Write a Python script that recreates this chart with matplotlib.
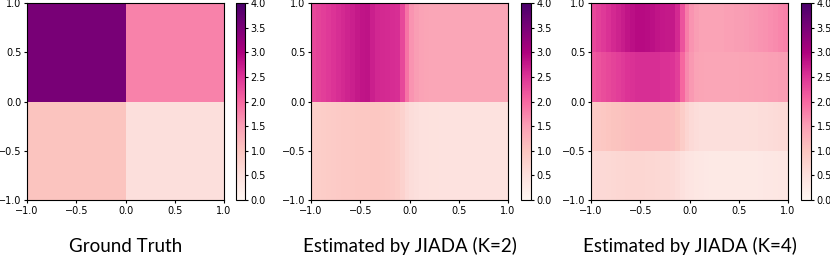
import matplotlib
matplotlib.use("Agg")
import matplotlib.pyplot as plt
import numpy as np

# ground truth, rows bottom -> top, cols left -> right
truth = [[1.0, 0.5],
         [3.5, 1.75]]

# K=2 estimate, 40 columns over x in [-1, 1]
k2_bottom = [0.82, 0.83, 0.85, 0.86, 0.88, 0.9, 0.91, 0.92, 0.93, 0.94, 0.95, 0.95,
             0.96, 0.96, 0.95, 0.93, 0.9, 0.85,
             0.75, 0.62,
             0.55, 0.5, 0.48, 0.47, 0.46, 0.46, 0.45, 0.45, 0.45, 0.45,
             0.45, 0.45, 0.45, 0.45, 0.45, 0.45, 0.45, 0.45, 0.45, 0.45]
k2_top = [2.3, 2.35, 2.4, 2.45, 2.5, 2.55, 2.6, 2.65, 2.7, 2.75, 2.8, 2.82,
          2.7, 2.62, 2.6, 2.58, 2.57, 2.55,
          2.3, 1.9,
          1.6, 1.5, 1.45, 1.42, 1.4, 1.4, 1.4, 1.4, 1.4, 1.4,
          1.4, 1.4, 1.4, 1.4, 1.4, 1.4, 1.4, 1.4, 1.4, 1.4]

# K=4 estimate, four bands bottom -> top
k4_band1 = [0.6, 0.61, 0.62, 0.63, 0.65, 0.66, 0.67, 0.68, 0.68, 0.68, 0.68, 0.67,
            0.66, 0.65, 0.64, 0.63, 0.6, 0.55,
            0.48, 0.42,
            0.38, 0.35, 0.33, 0.32, 0.3, 0.3, 0.3, 0.3, 0.3, 0.3,
            0.3, 0.3, 0.3, 0.31, 0.32, 0.33, 0.34, 0.35, 0.36, 0.37]
k4_band2 = [0.9, 0.92, 0.95, 0.97, 1.0, 1.02, 1.05, 1.07, 1.1, 1.12, 1.12, 1.12,
            1.12, 1.12, 1.1, 1.1, 1.08, 1.0,
            0.85, 0.7,
            0.6, 0.55, 0.5, 0.5, 0.5, 0.5, 0.5, 0.5, 0.5, 0.5,
            0.5, 0.5, 0.52, 0.53, 0.55, 0.55, 0.57, 0.58, 0.6, 0.6]
k4_band3 = [2.15, 2.2, 2.25, 2.3, 2.35, 2.4, 2.45, 2.5, 2.52, 2.55, 2.55, 2.55,
            2.55, 2.55, 2.53, 2.52, 2.5, 2.4,
            2.0, 1.7,
            1.55, 1.45, 1.42, 1.4, 1.4, 1.4, 1.4, 1.4, 1.4, 1.4,
            1.42, 1.42, 1.43, 1.44, 1.45, 1.46, 1.47, 1.48, 1.5, 1.5]
k4_band4 = [2.3, 2.38, 2.45, 2.52, 2.6, 2.67, 2.73, 2.8, 2.85, 2.9, 2.9, 2.88,
            2.85, 2.8, 2.78, 2.76, 2.75, 2.6,
            2.2, 1.8,
            1.6, 1.5, 1.45, 1.45, 1.45, 1.45, 1.45, 1.47, 1.48, 1.5,
            1.5, 1.52, 1.55, 1.57, 1.6, 1.62, 1.65, 1.68, 1.72, 1.75]

titles = ["Ground Truth", "Estimated by JIADA (K=2)", "Estimated by JIADA (K=4)"]
ticks = [-1.0, -0.5, 0.0, 0.5, 1.0]
cbar_ticks = np.arange(0, 4.01, 0.5)

grids = [np.array(truth),
         np.array([k2_bottom, k2_top]),
         np.array([k4_band1, k4_band2, k4_band3, k4_band4])]

W, H = 830, 258
fig = plt.figure(figsize=(W / 100, H / 100), dpi=100)

# pixel boxes: (ax_left, ax_right, cb_left, cb_right)
boxes = [(27, 224, 236, 245),
         (311, 508, 521, 531),
         (591, 788, 801, 811)]
top, bottom = 3, 200

for grid, title, (l, r, cl, cr) in zip(grids, titles, boxes):
    ax = fig.add_axes([l / W, 1 - bottom / H, (r - l) / W, (bottom - top) / H])
    im = ax.imshow(grid, cmap="RdPu", vmin=0, vmax=4, origin="lower",
                   extent=[-1, 1, -1, 1], aspect="auto", interpolation="nearest")
    ax.set_xticks(ticks)
    ax.set_yticks(ticks)
    ax.tick_params(labelsize=7, length=2.5, pad=1.5)
    cax = fig.add_axes([cl / W, 1 - bottom / H, (cr - cl) / W, (bottom - top) / H])
    cb = fig.colorbar(im, cax=cax, ticks=cbar_ticks)
    cb.ax.tick_params(labelsize=7, length=2.5, pad=1.5)
    fig.text((l + r) / 2 / W, 1 - 246 / H, title, ha="center", va="center",
             fontsize=13.5, family="Lato")

fig.savefig("out.png", dpi=100)
